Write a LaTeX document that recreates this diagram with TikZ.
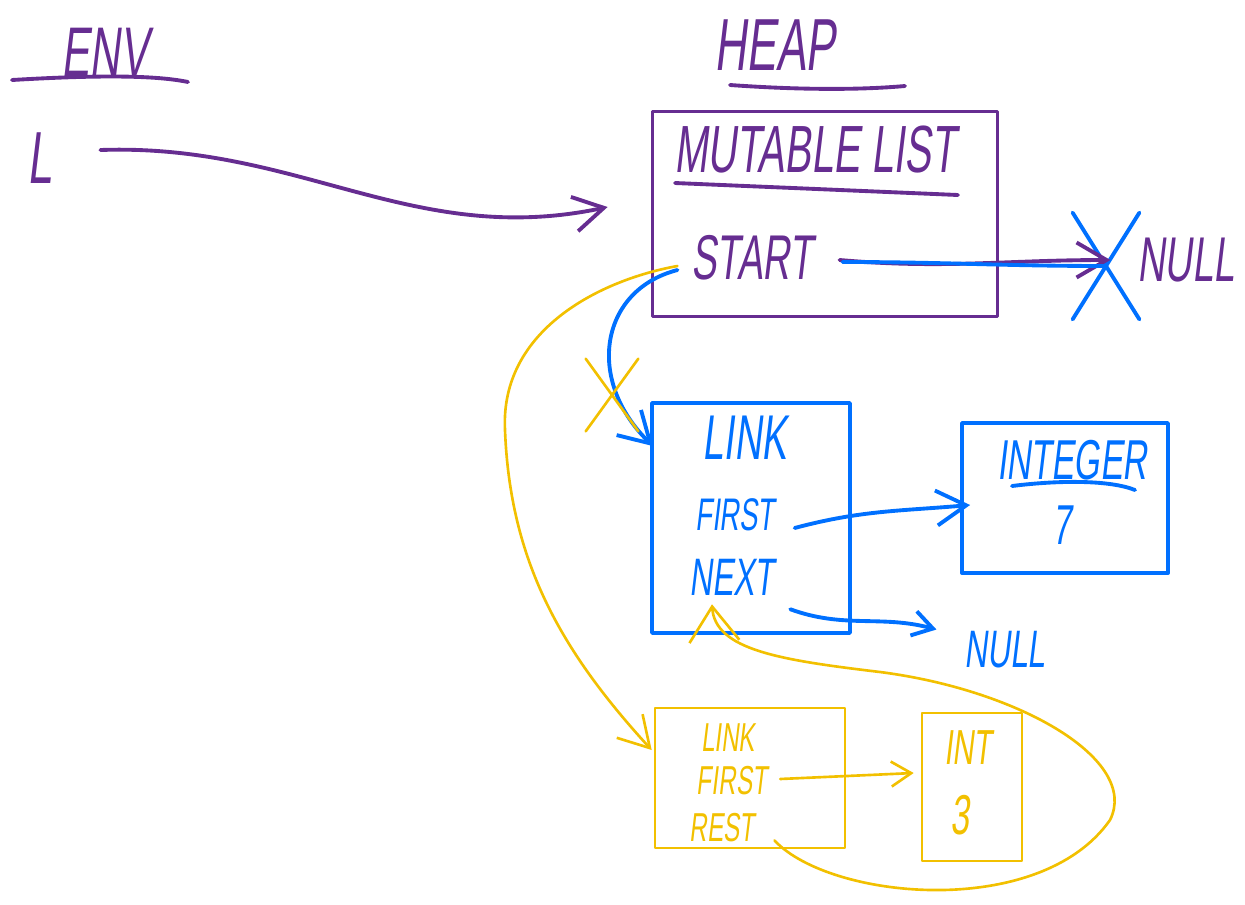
\documentclass[tikz,border=0pt]{standalone}
\usepackage{fontspec}
\newfontfamily\handfont[FakeStretch=0.6,FakeSlant=0.12]{Liberation Sans}
\usetikzlibrary{arrows.meta,shapes.misc}
\definecolor{hppurple}{RGB}{102,45,145}
\definecolor{hpblue}{RGB}{0,112,255}
\definecolor{hpyellow}{RGB}{242,192,0}

\begin{document}
\begin{tikzpicture}[x=0.02cm, y=-0.02cm,
  hand/.style={font=\handfont\fontsize{#1}{#1}\selectfont, inner sep=1pt},
  pen/.style={line width=2.2pt, line cap=round, line join=round},
  thinpen/.style={line width=1.5pt, line cap=round, line join=round},
  barb/.style={-{Straight Barb[length=6mm,width=7mm]}},
  smallbarb/.style={-{Straight Barb[length=4mm,width=5mm]}},
  bigbarb/.style={-{Straight Barb[length=7mm,width=10mm]}},
  membox/.style={draw, inner sep=0pt},
  xmark/.style={draw, cross out, inner sep=0pt}]
\useasboundingbox (0,0) rectangle (1245,904);
% Environment
\node[hand=40, hppurple] (env) at (105,52) {ENV};
\draw[pen, hppurple] (12,80) .. controls (80,76) and (150,74) .. (188,82);
\node[hand=42, hppurple] (lvar) at (40,158) {L};
% Heap
\node[hand=42, hppurple] (heap) at (775,45) {HEAP};
\draw[pen, hppurple] (730,85) .. controls (800,90) and (860,90) .. (905,86);
\node[membox, draw=hppurple, pen, minimum width=6.9cm, minimum height=4.1cm] (mlistbox) at (825,214) {};
\node[hand=38, hppurple] (mltitle) at (815,150) {MUTABLE LIST};
\draw[pen, hppurple] (675,183) -- (958,195);
\node[hand=36, hppurple] (start) at (752,258) {START};
\node[hand=36, hppurple] (pnull) at (1186,260) {NULL};
% Blue link
\node[membox, draw=hpblue, pen, minimum width=3.96cm, minimum height=4.6cm] (linkbox) at (751,518) {};
\node[hand=36, hpblue] (blink) at (745,438) {LINK};
\node[hand=26, hpblue] (bfirst) at (735,515) {FIRST};
\node[hand=30, hpblue] (bnext) at (732,577) {NEXT};
\node[membox, draw=hpblue, pen, minimum width=4.12cm, minimum height=3cm] (intbox) at (1065,498) {};
\node[hand=32, hpblue] (inttitle) at (1072,460) {INTEGER};
\draw[pen, hpblue] (1012,486) .. controls (1060,480) and (1110,480) .. (1135,490);
\node[hand=32, hpblue] (seven) at (1062,525) {7};
\node[hand=30, hpblue] (bnull) at (1005,650) {NULL};
% Yellow link
\node[membox, draw=hpyellow, thinpen, minimum width=3.8cm, minimum height=2.8cm] (ylinkbox) at (750,778) {};
\node[hand=23, hpyellow] (ylink) at (728,738) {LINK};
\node[hand=23, hpyellow] (yfirst) at (732,781) {FIRST};
\node[hand=23, hpyellow] (yrest) at (722,828) {REST};
\node[membox, draw=hpyellow, thinpen, minimum width=2cm, minimum height=2.96cm] (yintbox) at (972,787) {};
\node[hand=28, hpyellow] (yinttitle) at (968,748) {INT};
\node[hand=32, hpyellow] (three) at (960,815) {3};
% Crossed out
\node[xmark, draw=hpblue, pen, minimum width=1.26cm, minimum height=2.06cm] (pcross) at (1106,266) {};
% Arrows
\draw[pen, barb, hppurple] ([shift={(46,-8)}]lvar.east) to[out=2, in=192] ([shift={(-43,-7)}]mlistbox.west);
\draw[pen, barb, hppurple] ([shift={(25,2)}]start.east) to[out=-5, in=180] ([shift={(-25,0)}]pnull.west);
\draw[pen, hpblue] ([shift={(28,4)}]start.east) to[out=0, in=180] (pcross.center);
\draw[pen, barb, hpblue] ([shift={(-12,12)}]start.west) .. controls (600,290) and (585,380) .. ([shift={(3,45)}]linkbox.north west);
\draw[pen, barb, hpblue] ([shift={(18,13)}]bfirst.east) to[out=15, in=185] ([shift={(10,7)}]intbox.west);
\draw[pen, smallbarb, hpblue] ([shift={(14,12)}]bnext.south east) to[out=-20, in=165] ([shift={(-26,0)}]bnull.north west);
\draw[thinpen, barb, hpyellow] ([shift={(-12,8)}]start.west) .. controls (600,280) and (500,330) .. (505,430)
  .. controls (510,560) and (560,650) .. ([shift={(-2,-28)}]ylinkbox.west);
\draw[thinpen, smallbarb, hpyellow] ([shift={(11,-2)}]yfirst.east) -- ([shift={(-7,-14)}]yintbox.west);
\draw[thinpen, bigbarb, hpyellow] ([shift={(18,-4)}]yrest.south east) .. controls (830,900) and (1040,920) .. (1110,820)
  .. controls (1140,760) and (1020,690) .. (880,672)
  .. controls (780,660) and (715,650) .. ([shift={(-20,7)}]bnext.south);
\node[xmark, draw=hpyellow, thinpen, minimum width=1.0cm, minimum height=1.4cm] (ycross) at (612,395) {};
\end{tikzpicture}
\end{document}
